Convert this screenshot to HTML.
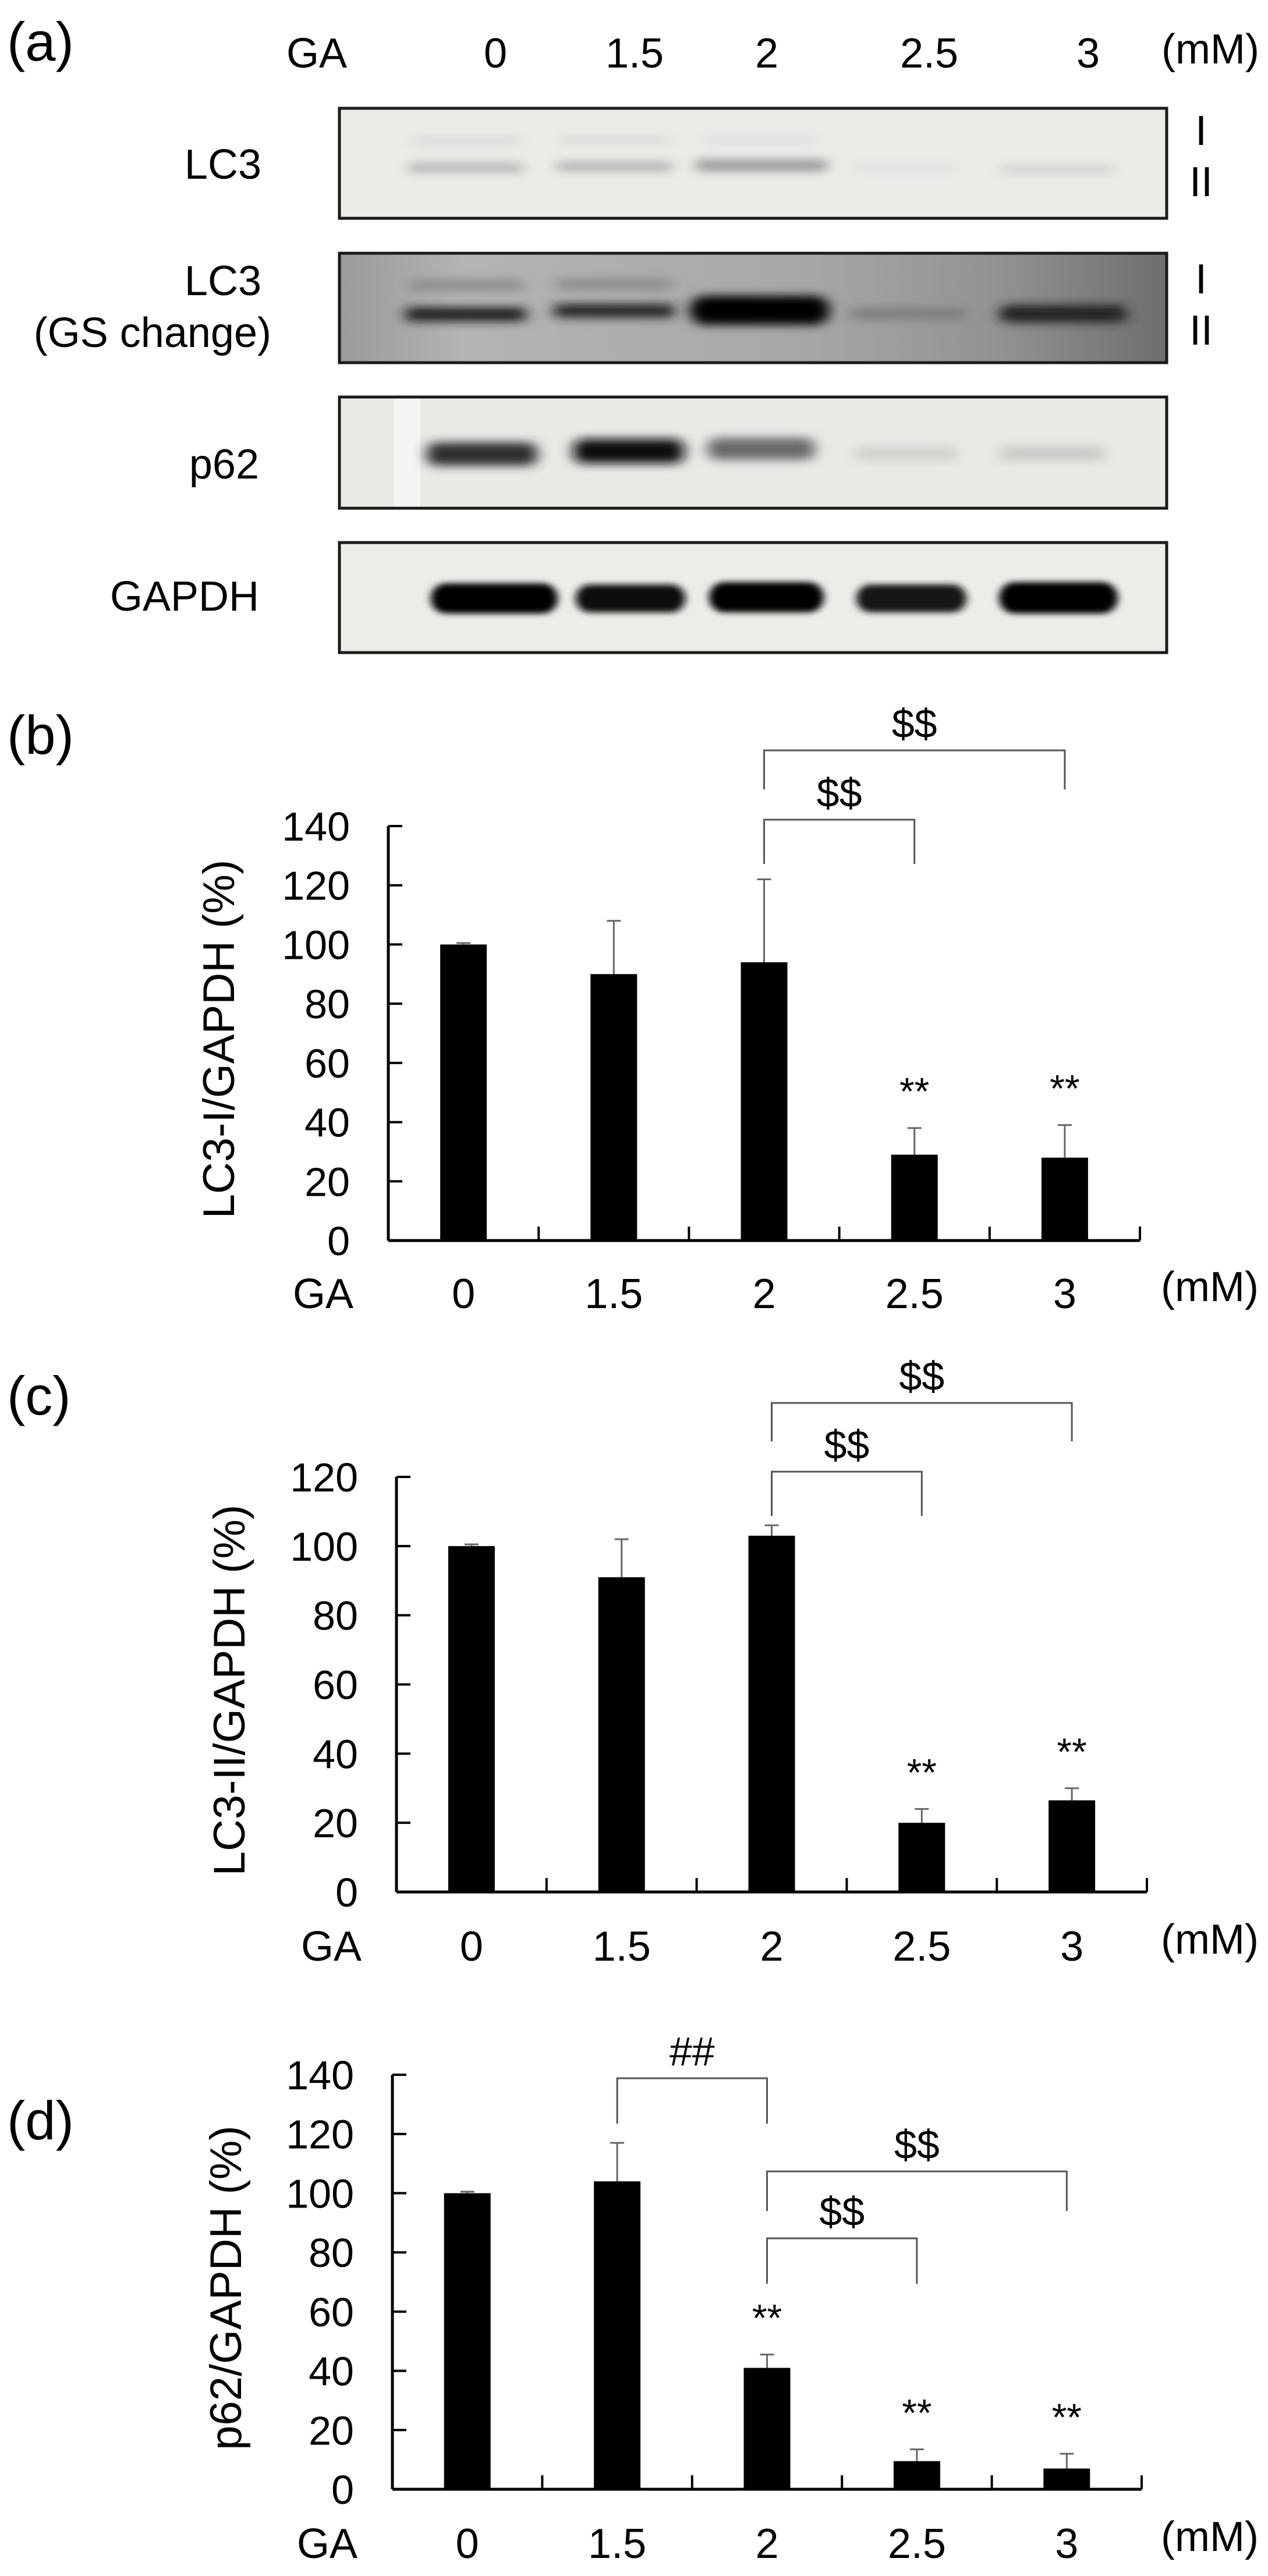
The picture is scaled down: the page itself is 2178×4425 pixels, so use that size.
<!DOCTYPE html>
<html><head><meta charset="utf-8"><style>
html,body{margin:0;padding:0;background:#fff;}
svg{display:block;font-family:"Liberation Sans",Arial,sans-serif;}
</style></head><body>
<svg id="fig" width="2178" height="4425" viewBox="0 0 2178 4425" xmlns="http://www.w3.org/2000/svg">
<defs>
<filter id="blur" x="-50%" y="-100%" width="200%" height="300%"><feGaussianBlur stdDeviation="12 8"/></filter>
<filter id="blurS" x="-50%" y="-100%" width="200%" height="300%"><feGaussianBlur stdDeviation="7 5"/></filter>
<linearGradient id="gs" x1="0" x2="1" y1="0" y2="0">
<stop offset="0" stop-color="#9a9a9a"/><stop offset="0.15" stop-color="#b4b4b4"/><stop offset="0.55" stop-color="#a8a8a8"/><stop offset="0.8" stop-color="#929292"/><stop offset="1" stop-color="#6e6e6e"/>
</linearGradient>
<clipPath id="c1"><rect x="583" y="186" width="1421" height="189"/></clipPath>
<clipPath id="c2"><rect x="583" y="435" width="1421" height="188"/></clipPath>
<clipPath id="c3"><rect x="583" y="682" width="1421" height="191"/></clipPath>
<clipPath id="c4"><rect x="583" y="932" width="1421" height="189"/></clipPath>
</defs>

<g>
<text x="12" y="104" font-size="94">(a)</text>
<text x="544" y="116" font-size="72" text-anchor="middle">GA</text>
<text x="851" y="116" font-size="72" text-anchor="middle">0</text>
<text x="1090" y="116" font-size="72" text-anchor="middle">1.5</text>
<text x="1317" y="116" font-size="72" text-anchor="middle">2</text>
<text x="1596" y="116" font-size="72" text-anchor="middle">2.5</text>
<text x="1869" y="116" font-size="72" text-anchor="middle">3</text>
<text x="2079" y="109" font-size="72" text-anchor="middle">(mM)</text>

<text x="449" y="307" font-size="72" text-anchor="end">LC3</text>
<text x="449" y="507" font-size="72" text-anchor="end">LC3</text>
<text x="466" y="596" font-size="72" text-anchor="end">(GS change)</text>
<text x="445" y="822" font-size="72" text-anchor="end">p62</text>
<text x="445" y="1049" font-size="72" text-anchor="end">GAPDH</text>

<text x="2063" y="249" font-size="72" text-anchor="middle">I</text>
<text x="2063" y="337" font-size="72" text-anchor="middle">II</text>
<text x="2063" y="504" font-size="72" text-anchor="middle">I</text>
<text x="2063" y="592" font-size="72" text-anchor="middle">II</text>

<g clip-path="url(#c1)">
<rect x="583" y="186" width="1421" height="189" fill="#ebebe8"/>
<g filter="url(#blur)">
<rect x="705" y="236" width="190" height="14" rx="7" fill="#dadad8"/>
<rect x="960" y="234" width="190" height="14" rx="7" fill="#dadad8"/>
<rect x="1210" y="234" width="190" height="14" rx="7" fill="#dedede"/>
<rect x="700" y="280" width="200" height="16" rx="8" fill="#b4b4b2"/>
<rect x="955" y="278" width="200" height="16" rx="8" fill="#b0b0ae"/>
<rect x="1194" y="274" width="228" height="20" rx="10" fill="#989896"/>
<rect x="1467" y="282" width="180" height="12" rx="6" fill="#dcdcda"/>
<rect x="1716" y="284" width="200" height="14" rx="7" fill="#d0d0ce"/>
</g></g>
<rect x="583" y="186" width="1421" height="189" fill="none" stroke="#1a1a1a" stroke-width="5"/>

<g clip-path="url(#c2)">
<rect x="583" y="435" width="1421" height="188" fill="url(#gs)"/>
<g filter="url(#blur)">
<rect x="700" y="480" width="200" height="20" rx="10" fill="#8e8e8e"/>
<rect x="955" y="478" width="200" height="20" rx="10" fill="#8e8e8e"/>
<rect x="695" y="528" width="210" height="24" rx="12" fill="#1e1e1e"/>
<rect x="950" y="522" width="210" height="24" rx="12" fill="#262626"/>
<rect x="1185" y="508" width="240" height="50" rx="25" fill="#000"/>
<rect x="1460" y="530" width="200" height="18" rx="9" fill="#7a7a7a"/>
<rect x="1716" y="524" width="220" height="30" rx="15" fill="#222"/>
</g></g>
<rect x="583" y="435" width="1421" height="188" fill="none" stroke="#1a1a1a" stroke-width="5"/>

<g clip-path="url(#c3)">
<rect x="583" y="682" width="1421" height="191" fill="#e9e9e6"/>
<rect x="677" y="682" width="45" height="191" fill="#f5f5f3"/>
<g filter="url(#blur)">
<rect x="733" y="760" width="190" height="40" rx="16" fill="#2e2e2e"/>
<rect x="985" y="754" width="190" height="42" rx="16" fill="#111"/>
<rect x="1215" y="752" width="185" height="38" rx="16" fill="#6a6a6a"/>
<rect x="1467" y="766" width="180" height="26" rx="12" fill="#d2d2cf"/>
<rect x="1716" y="766" width="183" height="26" rx="12" fill="#cbcbc8"/>
</g></g>
<rect x="583" y="682" width="1421" height="191" fill="none" stroke="#1a1a1a" stroke-width="5"/>

<g clip-path="url(#c4)">
<rect x="583" y="932" width="1421" height="189" fill="#ecece9"/>
<g filter="url(#blurS)">
<rect x="740" y="1002" width="218" height="52" rx="26" fill="#050505"/>
<rect x="989" y="1004" width="188" height="48" rx="24" fill="#0a0a0a"/>
<rect x="1218" y="1000" width="197" height="52" rx="26" fill="#050505"/>
<rect x="1471" y="1004" width="189" height="48" rx="24" fill="#151515"/>
<rect x="1716" y="1000" width="204" height="54" rx="27" fill="#050505"/>
</g></g>
<rect x="583" y="932" width="1421" height="189" fill="none" stroke="#1a1a1a" stroke-width="5"/>
</g>

<g id="charts"></g>
</svg>
<script>
// ---- data ----
const categories = ["0", "1.5", "2", "2.5", "3"];
const lc3iValues = [100, 90, 94, 29, 28];
const lc3iErrors = [0.5, 18, 28, 9, 11];
const lc3iTicks = [0, 20, 40, 60, 80, 100, 120, 140];
const lc3iiValues = [100, 91, 103, 20, 26.5];
const lc3iiErrors = [0.5, 11, 3, 4, 3.5];
const lc3iiTicks = [0, 20, 40, 60, 80, 100, 120];
const p62Values = [100, 104, 41, 9.5, 7];
const p62Errors = [0.5, 13, 4.5, 4, 5];
const p62Ticks = [0, 20, 40, 60, 80, 100, 120, 140];

const NS = "http://www.w3.org/2000/svg";
const root = document.getElementById("charts");
function mk(tag, attrs, parent) {
  const e = document.createElementNS(NS, tag);
  for (const k in attrs) e.setAttribute(k, attrs[k]);
  (parent || root).appendChild(e);
  return e;
}

function chart(cfg) {
  const g = mk("g", {});
  
  
  const x0 = cfg.x0, x1 = cfg.x1, base = cfg.base, top = cfg.top;
  const ymax = cfg.ticks[cfg.ticks.length - 1];
  const yScale = v => base - (v / ymax) * (base - top);
  const bw = (x1 - x0) / cfg.cats.length;
  const xScale = i => x0 + bw * (i + 0.5);

  const pl = mk("text", {x: 12, y: cfg.labelY, "font-size": 94}, g);
  pl.textContent = cfg.label;
  
  

  const ya = mk("line", {x1: x0, y1: top, x2: x0, y2: base, stroke: "#000", "stroke-width": 5}, g);
  
  
  cfg.ticks.forEach(t => {
    const y = yScale(t);
    const tk = mk("line", {x1: x0, y1: y, x2: x0 + 24, y2: y, stroke: "#000", "stroke-width": 4}, g);
    
    
    const tl = mk("text", {x: x0 - 66, y: y + 25, "font-size": 70, "text-anchor": "end"}, g);
    tl.textContent = t;
    
    
  });
  const xa = mk("line", {x1: x0, y1: base, x2: x1, y2: base, stroke: "#000", "stroke-width": 5}, g);
  
  
  for (let i = 1; i <= cfg.cats.length; i++) {
    const x = x0 + bw * i;
    const tk = mk("line", {x1: x, y1: base, x2: x, y2: base - 24, stroke: "#000", "stroke-width": 4}, g);
    
    
  }
  const yt = mk("text", {x: 0, y: 0, "font-size": 76, "text-anchor": "middle",
    transform: `translate(${cfg.titleX},${(top + base) / 2 + 10}) rotate(-90)`}, g);
  yt.textContent = cfg.title;
  
  

  cfg.values.forEach((v, i) => {
    const cx = xScale(i);
    const y = yScale(v);
    const b = mk("rect", {x: cx - 40, y: y, width: 80, height: base - y, fill: "#000"}, g);
    
    
    const ye = yScale(v + cfg.errors[i]);
    const el = mk("path", {d: `M${cx} ${y} V${ye} M${cx - 12} ${ye} H${cx + 12}`, stroke: "#666", "stroke-width": 3, fill: "none"}, g);
    
    
    const cl = mk("text", {x: cx, y: cfg.catY, "font-size": 72, "text-anchor": "middle"}, g);
    cl.textContent = cfg.cats[i];
    
    
    if (cfg.stars[i]) {
      const s = mk("text", {x: cx, y: ye - 40, "font-size": 66, "text-anchor": "middle"}, g);
      s.textContent = "**";
      
      
    }
  });
  const ga = mk("text", {x: cfg.x0 - 112, y: cfg.catY, "font-size": 72, "text-anchor": "middle"}, g);
  ga.textContent = "GA";
  
  
  const un = mk("text", {x: 2078, y: cfg.catY - 12, "font-size": 72, "text-anchor": "middle"}, g);
  un.textContent = "(mM)";
  
  

  cfg.brackets.forEach(br => {
    const xa = xScale(br.from), xb = xScale(br.to);
    const p = mk("path", {d: `M${xa} ${br.y + br.leg} V${br.y} H${xb} V${br.y + br.leg}`, stroke: "#555", "stroke-width": 3, fill: "none"}, g);
    
    
    const t = mk("text", {x: (xa + xb) / 2, y: br.y - 22, "font-size": 70, "text-anchor": "middle"}, g);
    t.textContent = br.text;
    
    
  });
}

chart({name: "chart-b-lc3-i", label: "(b)", labelY: 1295, x0: 667, x1: 1958, base: 2131, top: 1419,
  ticks: lc3iTicks, values: lc3iValues, errors: lc3iErrors, cats: categories,
  title: "LC3-I/GAPDH (%)", titleX: 402, catY: 2247, stars: [0, 0, 0, 1, 1],
  brackets: [{from: 2, to: 4, y: 1289, leg: 67, text: "$$"}, {from: 2, to: 3, y: 1408, leg: 76, text: "$$"}]});

chart({name: "chart-c-lc3-ii", label: "(c)", labelY: 2430, x0: 681, x1: 1970, base: 3250, top: 2537,
  ticks: lc3iiTicks, values: lc3iiValues, errors: lc3iiErrors, cats: categories,
  title: "LC3-II/GAPDH (%)", titleX: 420, catY: 3368, stars: [0, 0, 0, 1, 1],
  brackets: [{from: 2, to: 4, y: 2410, leg: 66, text: "$$"}, {from: 2, to: 3, y: 2528, leg: 76, text: "$$"}]});

chart({name: "chart-d-p62", label: "(d)", labelY: 3675, x0: 674, x1: 1961, base: 4276, top: 3564,
  ticks: p62Ticks, values: p62Values, errors: p62Errors, cats: categories,
  title: "p62/GAPDH (%)", titleX: 414, catY: 4394, stars: [0, 0, 1, 1, 1],
  brackets: [{from: 1, to: 2, y: 3570, leg: 78, text: "##"}, {from: 2, to: 4, y: 3730, leg: 68, text: "$$"}, {from: 2, to: 3, y: 3845, leg: 78, text: "$$"}]});
</script>
</body></html>
